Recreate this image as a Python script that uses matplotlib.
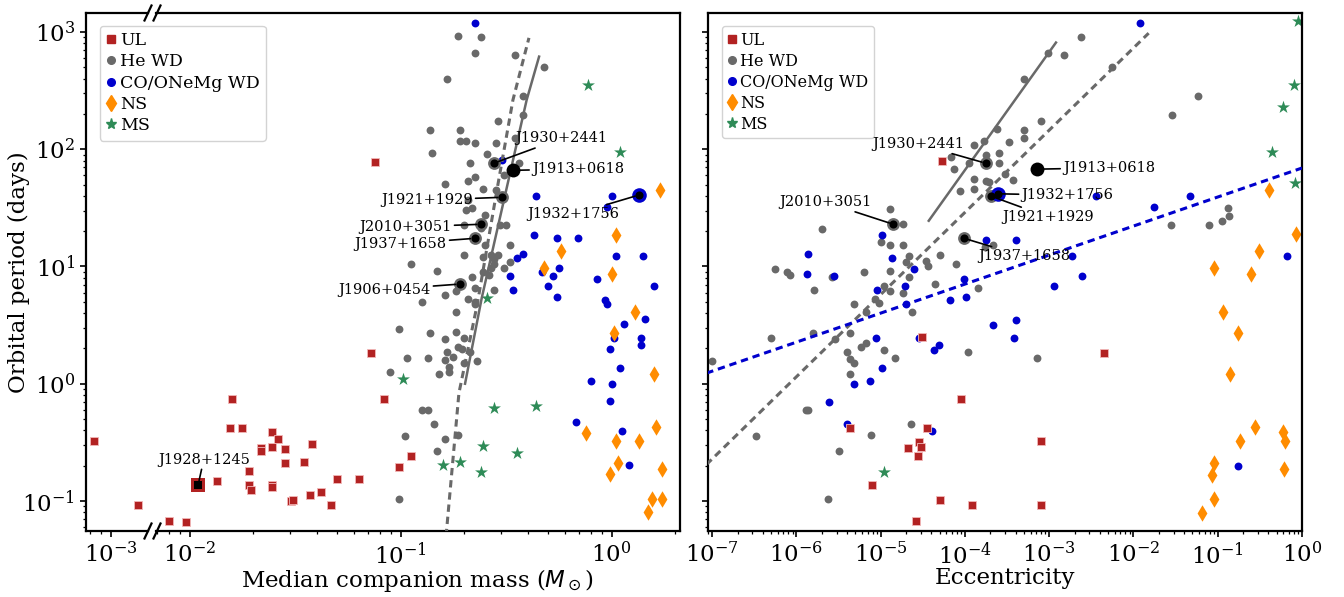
import numpy as np
import matplotlib.pyplot as plt
from matplotlib.lines import Line2D
from matplotlib.ticker import NullFormatter

plt.rcParams['font.family'] = 'serif'
plt.rcParams['font.serif'] = ['DejaVu Serif']
plt.rcParams['mathtext.fontset'] = 'dejavusans'
plt.rcParams['axes.linewidth'] = 1.6

# ---------------- left panel: log10 median companion mass vs log10 Pb ----------------
ul_m = [-3.08, -2.87, -2.10, -2.02, -1.87, -1.81, -1.80, -1.75, -1.72, -1.72, -1.71, -1.66,
        -1.66, -1.61, -1.61, -1.61, -1.61, -1.58, -1.55, -1.55, -1.52, -1.51, -1.46, -1.43,
        -1.42, -1.38, -1.33, -1.30, -1.20, -1.14, -1.12, -1.08, -1.01, -0.95]
ul_p = [-0.49, -1.03, -1.17, -1.18, -0.83, -0.38, -0.13, -0.38, -0.74, -0.86, -0.91, -0.55,
        -0.57, -0.41, -0.54, -0.86, -0.88, -0.47, -0.68, -0.56, -1.00, -0.99, -0.67, -0.95,
        -0.51, -0.92, -1.03, -0.81, -0.81, 0.26, 1.89, -0.13, -0.71, -0.62]

he_m = [-0.73, -0.62, -0.65, -0.46, -0.32, -0.78, -0.42, -0.42, -0.54, -0.86, -0.72, -0.72,
        -0.69, -0.65, -0.46, -0.55, -0.85, -0.67, -0.59, -0.44, -0.51, -0.68, -0.65, -0.79,
        -0.61, -0.55, -0.68, -0.69, -0.66, -0.70, -0.53, -0.50, -0.60, -0.62, -0.60, -0.48,
        -0.57, -0.56, -0.54, -0.70, -0.61, -0.48, -0.95, -0.83, -0.56, -0.57, -0.66, -0.61,
        -0.58, -0.74, -0.79, -0.68, -0.65, -0.90, -0.65, -0.74, -0.56, -0.51, -1.01, -0.86,
        -0.79, -0.74, -0.70, -0.65, -0.73, -0.71, -0.78, -0.67, -0.97, -0.87, -0.79, -0.75,
        -0.64, -0.70, -0.77, -1.05, -0.77, -0.82, -0.90, -0.87, -0.84, -0.98, -0.79, -0.73,
        -0.83, -1.01]
he_p = [2.97, 2.96, 2.82, 2.80, 2.70, 2.60, 2.45, 2.29, 2.24, 2.16, 2.16, 2.07,
        2.07, 2.05, 2.10, 2.05, 1.97, 1.88, 1.96, 1.88, 1.78, 1.73, 1.76, 1.70,
        1.66, 1.65, 1.57, 1.48, 1.50, 1.35, 1.35, 1.35, 1.44, 1.33, 1.18, 1.18,
        1.10, 1.06, 1.10, 1.10, 1.08, 1.04, 1.02, 0.96, 1.02, 0.99, 0.91, 0.95,
        0.93, 0.79, 0.76, 0.72, 0.82, 0.70, 0.70, 0.61, 0.80, 0.99, 0.47, 0.43,
        0.38, 0.44, 0.39, 0.68, 0.31, 0.30, 0.27, 0.27, 0.22, 0.22, 0.20, 0.23,
        0.19, 0.18, 0.14, 0.10, 0.10, 0.08, -0.22, -0.22, -0.34, -0.45, -0.47, -0.44,
        -0.57, -0.98]

co_m = [-0.65, -0.52, -0.36, 0.00, -0.02, -0.37, -0.26, -0.16, -0.42, -0.45, 0.02, 0.15,
        -0.33, -0.28, -0.25, -0.48, -0.47, -0.30, -0.26, -0.07, -0.03, -0.02, 0.20, 0.16,
        0.06, 0.14, 0.01, -0.01, 0.14, 0.04, -0.10, 0.00, -0.01, -0.17, 0.05, 0.08]
co_p = [3.08, 1.91, 1.60, 1.60, 1.51, 1.27, 1.24, 1.24, 1.11, 1.07, 1.09, 1.09,
        0.95, 0.92, 0.99, 0.92, 0.80, 0.83, 0.74, 0.89, 0.71, 0.68, 0.83, 0.55,
        0.51, 0.39, 0.39, 0.30, 0.33, 0.13, 0.02, 0.00, -0.15, -0.33, -0.40, -0.69]

ns_m = [0.23, 0.02, -0.24, -0.32, 0.00, 0.11, 0.01, 0.20, 0.21, -0.12, 0.02, 0.13,
        0.03, -0.01, 0.24, 0.19, 0.24, 0.17]
ns_p = [1.65, 1.27, 1.13, 0.99, 0.94, 0.61, 0.43, 0.08, -0.37, -0.42, -0.49, -0.49,
        -0.68, -0.77, -0.73, -0.98, -0.98, -1.09]

ms_m = [-0.11, 0.04, -0.59, -0.99, -0.56, -0.36, -0.61, -0.45, -0.80, -0.72, -0.62]
ms_p = [2.55, 1.98, 0.73, 0.04, -0.21, -0.19, -0.53, -0.59, -0.69, -0.67, -0.75]

# mass-period relations
rel_dash_m = [-0.785, -0.724, -0.638, -0.544, -0.468, -0.392]
rel_dash_p = [-1.30, -0.08, 0.67, 1.65, 2.42, 2.95]
rel_solid_m = [-0.695, -0.616, -0.403, -0.344]
rel_solid_p = [0.00, 0.73, 2.42, 2.79]

# ---------------- right panel: log10 eccentricity vs log10 Pb ----------------
ul_e = [-4.27, -4.51, -4.05, -5.36, -4.45, -4.55, -4.68, -4.52, -4.56, -3.10, -5.10, -4.30,
        -3.92, -3.10, -4.58, -2.35]
ul_pe = [1.90, 0.40, -0.13, -0.38, -0.38, -0.50, -0.55, -0.54, -0.62, -0.49, -0.86, -0.99,
         -1.03, -1.03, -1.17, 0.26]

he_e = [-2.62, -3.02, -2.82, -3.30, -2.26, -3.10, -3.30, -3.30, -3.48, -3.60, -3.60, -3.52,
        -3.43, -1.23, -1.54, -0.88, -0.87, -0.95, -1.10, -1.56, -3.15, -4.17, -4.13, -3.95,
        -4.06, -3.89, -3.89, -3.75, -3.71, -3.77, -3.89, -3.75, -3.62, -4.89, -4.74, -5.70,
        -5.00, -4.89, -4.73, -3.76, -3.67, -4.30, -4.67, -4.70, -4.46, -4.44, -4.11, -6.26,
        -6.11, -6.08, -5.58, -5.20, -4.89, -4.67, -4.96, -4.89, -4.73, -4.36, -5.79, -5.32,
        -5.07, -5.02, -5.17, -4.63, -3.85, -6.30, -5.80, -5.54, -5.37, -5.40, -5.24, -5.17,
        -4.96, -4.83, -5.37, -5.32, -5.36, -3.96, -7.00, -5.89, -5.86, -6.48, -5.11, -4.64,
        -5.49, -5.62]
he_pe = [2.96, 2.82, 2.80, 2.60, 2.70, 2.24, 2.16, 2.10, 2.06, 1.97, 1.88, 1.79,
         1.74, 2.45, 2.29, 1.50, 1.43, 1.39, 1.35, 1.35, 0.22, 1.93, 1.83, 1.88,
         1.64, 1.66, 1.75, 1.73, 1.72, 2.07, 2.04, 1.95, 2.17, 1.49, 1.36, 1.32,
         1.21, 1.18, 1.18, 1.17, 1.18, 1.10, 1.09, 1.04, 1.05, 1.00, 1.02, 0.98,
         0.95, 0.93, 0.91, 0.95, 0.96, 0.91, 0.83, 0.79, 0.77, 0.85, 0.80, 0.68,
         0.72, 0.69, 0.61, 0.61, 0.82, 0.39, 0.43, 0.38, 0.43, 0.27, 0.31, 0.35,
         0.29, 0.22, 0.21, 0.18, 0.08, 0.27, 0.19, -0.22, -0.22, -0.45, -0.44, -0.34,
         -0.57, -0.98]

co_e = [-1.92, -5.86, -5.88, -5.55, -4.87, -4.60, -5.04, -4.71, -4.70, -4.18, -4.01, -3.99,
        -3.67, -3.39, -3.42, -5.06, -4.55, -4.37, -4.31, -4.99, -5.32, -5.13, -5.61, -5.40,
        -4.39, -3.40, -3.75, -4.99, -2.73, -2.61, -2.94, -2.45, -1.76, -1.33, -0.18, -0.76]
co_pe = [3.08, 1.11, 0.94, 0.92, 1.07, 0.98, 0.80, 0.83, 0.68, 0.71, 0.89, 0.74,
         0.50, 0.54, 0.39, 0.39, 0.39, 0.29, 0.33, 0.13, 0.00, 0.02, -0.16, -0.34,
         -0.40, 1.23, 1.23, 1.27, 1.09, 0.92, 0.83, 1.60, 1.51, 1.60, 1.09, -0.70]

ns_e = [-0.39, -0.07, -0.51, -1.04, -0.60, -0.94, -0.76, -0.86, -0.74, -0.56, -0.23, -0.20,
        -0.21, -1.05, -1.07, -1.05, -1.19]
ns_pe = [1.65, 1.28, 1.13, 0.99, 0.94, 0.61, 0.43, 0.08, -0.49, -0.37, -0.41, -0.49,
         -0.73, -0.68, -0.78, -0.98, -1.10]

ms_e = [-0.05, -0.10, -0.23, -0.36, -0.08, -4.96]
ms_pe = [3.09, 2.55, 2.36, 1.98, 1.71, -0.75]

# fitted trends in the eccentricity panel
trend_he_dash_e = [-7.07, -1.82]
trend_he_dash_p = [-0.69, 2.99]
trend_he_solid_e = [-4.43, -2.92]
trend_he_solid_p = [1.39, 2.91]
trend_co_dash_e = [-7.07, 0.0]
trend_co_dash_p = [0.09, 1.84]

# highlighted pulsars
psr_names = ['J1930+2441', 'J1913+0618', 'J1921+1929', 'J2010+3051', 'J1937+1658',
             'J1906+0454', 'J1932+1756', 'J1928+1245']
psr_kind = ['He', 'big', 'He', 'He', 'He', 'He', 'CO', 'UL']
psr_m = [-0.56, -0.47, -0.52, -0.62, -0.65, -0.72, 0.13, -1.96]
psr_p = [1.88, 1.82, 1.59, 1.36, 1.24, 0.85, 1.61, -0.86]
psr_e = [-3.75, -3.15, -3.69, -4.85, -4.01, np.nan, -3.61, np.nan]
psr_pe = [1.88, 1.83, 1.60, 1.36, 1.24, np.nan, 1.62, np.nan]

# label offsets (points) and alignment
off_left = {'J1930+2441': (16, 18, 'left'), 'J1913+0618': (14, 1, 'left'),
            'J1921+1929': (-21, -2, 'right'), 'J2010+3051': (-21, -2, 'right'),
            'J1937+1658': (-20, -4, 'right'), 'J1906+0454': (-21, -4, 'right'),
            'J1932+1756': (-14, -14, 'right'), 'J1928+1245': (4, 18, 'center')}
off_right = {'J1930+2441': (-16, 14, 'right'), 'J2010+3051': (-16, 16, 'right'),
             'J1937+1658': (10, -13, 'left'), 'J1921+1929': (8, -15, 'left'),
             'J1932+1756': (17, -1, 'left'), 'J1913+0618': (19, 1, 'left')}

RED, GRAY, BLUE, ORANGE, GREEN = '#b22222', 'dimgray', 'mediumblue', 'darkorange', 'seagreen'
ring = {'He': ('o', GRAY, 85), 'CO': ('o', BLUE, 110), 'UL': ('s', RED, 100)}


def p10(v):
    return 10 ** np.asarray(v, dtype=float)


def populations(ax, ul, he, co, ns, ms):
    ax.scatter(p10(he[0]), p10(he[1]), s=32, c=GRAY, lw=0, zorder=2)
    ax.scatter(p10(co[0]), p10(co[1]), s=32, c=BLUE, lw=0, zorder=2)
    ax.scatter(p10(ul[0]), p10(ul[1]), s=30, marker='s', c=RED, edgecolors='#f2b8b8',
               lw=0.6, zorder=2)
    ax.scatter(p10(ns[0]), p10(ns[1]), s=70, marker='d', c=ORANGE, lw=0, zorder=2)
    ax.scatter(p10(ms[0]), p10(ms[1]), s=95, marker='*', c=GREEN, lw=0, zorder=2)


def highlights(ax, xs, ys, offsets):
    for name, kind, x, y in zip(psr_names, psr_kind, xs, ys):
        if np.isnan(x) or name not in offsets:
            continue
        X, Y = 10 ** x, 10 ** y
        if kind == 'big':
            ax.scatter(X, Y, s=100, c='k', lw=0, zorder=5)
        else:
            mk, col, s = ring[kind]
            ax.scatter(X, Y, s=s, marker=mk, c=col, lw=0, zorder=5)
            ax.scatter(X, Y, s=34, marker=mk, c='k', lw=0, zorder=6)
        dx, dy, ha = offsets[name]
        ax.annotate(name, xy=(X, Y), xytext=(dx, dy), textcoords='offset points',
                    ha=ha, va='center', fontsize=10.5, zorder=7,
                    arrowprops=dict(arrowstyle='-', color='k', lw=1.2,
                                    shrinkA=0, shrinkB=3))


W, H = 1344, 597
fig = plt.figure(figsize=(W / 100, H / 100), dpi=100)


def px_axes(x0, x1, y0=13, y1=531):
    return fig.add_axes([x0 / W, 1 - y1 / H, (x1 - x0) / W, (y1 - y0) / H])


ax_a = px_axes(86, 148)
ax_b = px_axes(156, 680)
ax_r = px_axes(708, 1302)

ylim = (10 ** -1.256, 10 ** 3.162)
left = ((ul_m, ul_p), (he_m, he_p), (co_m, co_p), (ns_m, ns_p), (ms_m, ms_p))
for ax in (ax_a, ax_b):
    populations(ax, *left)
    ax.plot(p10(rel_dash_m), p10(rel_dash_p), color=GRAY, lw=2.2, dashes=(2.4, 1.6), zorder=3)
    ax.plot(p10(rel_solid_m), p10(rel_solid_p), color=GRAY, lw=1.8, zorder=3)
highlights(ax_b, psr_m, psr_p, off_left)

populations(ax_r, (ul_e, ul_pe), (he_e, he_pe), (co_e, co_pe), (ns_e, ns_pe), (ms_e, ms_pe))
ax_r.plot(p10(trend_he_dash_e), p10(trend_he_dash_p), color=GRAY, lw=2.2, dashes=(2.4, 1.6), zorder=3)
ax_r.plot(p10(trend_he_solid_e), p10(trend_he_solid_p), color=GRAY, lw=1.8, zorder=3)
ax_r.plot(p10(trend_co_dash_e), p10(trend_co_dash_p), color=BLUE, lw=2.2, dashes=(2.4, 1.6), zorder=3)
highlights(ax_r, psr_e, psr_pe, off_right)

for ax in (ax_a, ax_b, ax_r):
    ax.set_xscale('log')
    ax.set_yscale('log')
    ax.set_ylim(*ylim)
    ax.tick_params(which='major', labelsize=16.5, length=4.5, width=1.2)
    ax.tick_params(which='minor', length=2.5, width=0.9)

ax_a.set_xlim(10 ** -3.118, 10 ** -2.825)
ax_a.xaxis.set_minor_formatter(NullFormatter())
ax_b.set_xlim(10 ** -2.160, 10 ** 0.324)
ax_r.set_xlim(10 ** -7.05, 1.0)

ax_a.spines['right'].set_visible(False)
ax_b.spines['left'].set_visible(False)
ax_b.tick_params(axis='y', which='both', left=False, labelleft=False)
ax_r.tick_params(axis='y', which='both', labelleft=False)

ax_a.set_ylabel('Orbital period (days)', fontsize=16.5, labelpad=-6)
ax_b.set_xlabel(r'Median companion mass ($M_\odot$)', fontsize=16.5, labelpad=-1)
ax_r.set_xlabel('Eccentricity', fontsize=16.5, labelpad=-1)

# axis-break marks
for xb in (148, 157):
    for yb in (13, 531):
        fig.add_artist(Line2D([(xb - 3.5) / W, (xb + 3.5) / W],
                              [1 - (yb + 7.5) / H, 1 - (yb - 7.5) / H],
                              color='k', lw=1.6, transform=fig.transFigure, clip_on=False))

handles = [Line2D([], [], ls='none', marker='s', color=RED, ms=5.5),
           Line2D([], [], ls='none', marker='o', color=GRAY, ms=5.5),
           Line2D([], [], ls='none', marker='o', color=BLUE, ms=5.5),
           Line2D([], [], ls='none', marker='d', color=ORANGE, ms=8),
           Line2D([], [], ls='none', marker='*', color=GREEN, ms=8)]
labels = ['UL', 'He WD', 'CO/ONeMg WD', 'NS', 'MS']
for ax, x0, fs in ((ax_b, 100, 12.5), (ax_r, 722, 11.5)):
    ax.legend(handles, labels, loc='upper left', bbox_to_anchor=(x0 / W, 1 - 26 / H),
              bbox_transform=fig.transFigure, borderaxespad=0, fontsize=fs,
              handlelength=0.6, handletextpad=0.2, borderpad=0.35, labelspacing=0.25,
              framealpha=0.85)

fig.savefig('out.png', dpi=100)
